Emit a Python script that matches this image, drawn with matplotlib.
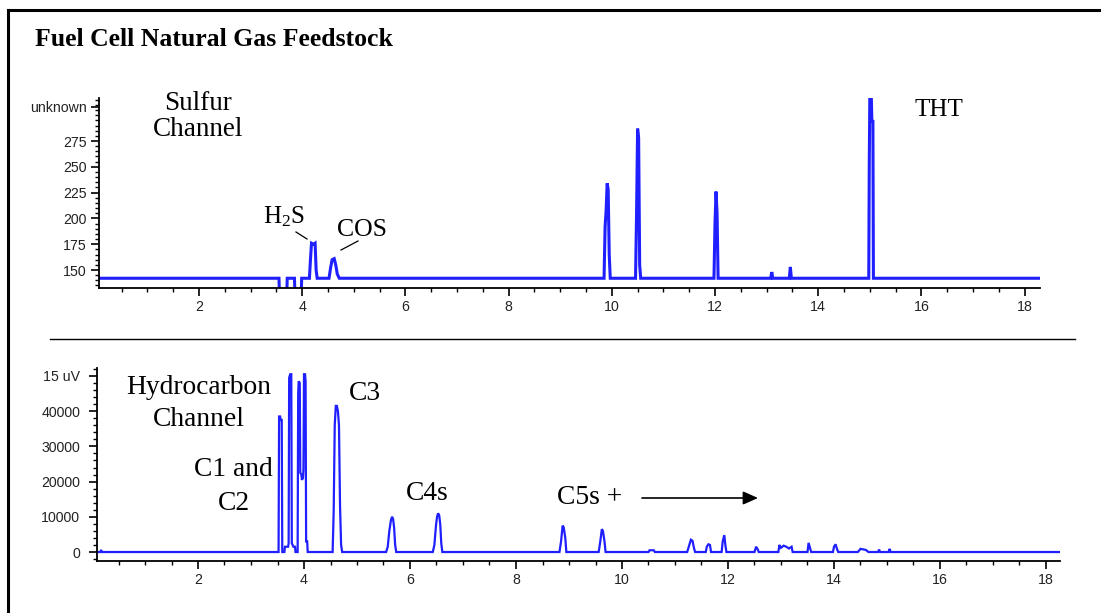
import matplotlib
matplotlib.use("Agg")
import matplotlib.pyplot as plt
from matplotlib.lines import Line2D
from matplotlib.ticker import MultipleLocator, FixedLocator, FixedFormatter

W, H = 1101, 613
plt.rcParams['mathtext.fontset'] = 'custom'
plt.rcParams['mathtext.rm'] = 'Liberation Serif'
plt.rcParams['mathtext.it'] = 'Liberation Serif'

# ---------------- data ----------------
# Sulfur channel trace: retention time (min) and detector response
sulfur_time = [0.0, 3.55, 3.56, 3.70, 3.71, 3.85, 3.86, 3.98, 3.99, 4.14, 4.16, 4.18, 4.22,
               4.25, 4.27, 4.29, 4.52, 4.55, 4.58, 4.62, 4.65, 4.68, 4.72,
               9.85, 9.87, 9.89, 9.91, 9.93, 9.95, 9.97,
               10.46, 10.48, 10.50, 10.52, 10.54, 10.56,
               11.98, 12.00, 12.02, 12.04, 12.06,
               13.08, 13.10, 13.12, 13.44, 13.46, 13.48,
               14.98, 14.99, 15.00, 15.03, 15.04, 15.06, 15.07, 18.35]
sulfur_resp = [142, 142, 125, 125, 142, 142, 125, 125, 142, 142, 160, 176, 175,
               176, 150, 142, 142, 152, 160, 161, 155, 146, 142,
               142, 192, 208, 234, 228, 165, 142,
               142, 205, 287, 278, 155, 142,
               142, 195, 226, 205, 142,
               142, 148, 142, 142, 153, 142,
               142, 256, 316, 316, 294, 294, 142, 142]

# Hydrocarbon channel trace
hc_time = [0.0, 0.16, 0.17, 0.19,
           3.52, 3.53, 3.55, 3.56, 3.58, 3.59,
           3.63, 3.64, 3.70, 3.71, 3.72, 3.74, 3.76, 3.77, 3.80, 3.83, 3.84, 3.88,
           3.89, 3.90, 3.92, 3.93, 3.95, 3.96, 3.98, 3.99, 4.00, 4.02, 4.03, 4.04, 4.06, 4.07,
           4.54, 4.56, 4.58, 4.60, 4.62, 4.64, 4.66, 4.68, 4.70, 4.72,
           5.55, 5.58, 5.61, 5.64, 5.66, 5.68, 5.70, 5.72, 5.74,
           6.43, 6.46, 6.49, 6.51, 6.53, 6.55, 6.57, 6.59, 6.61,
           8.82, 8.85, 8.88, 8.90, 8.93, 8.95,
           9.56, 9.59, 9.62, 9.64, 9.67, 9.69,
           10.50, 10.52, 10.60, 10.62,
           11.23, 11.26, 11.30, 11.33, 11.36, 11.38,
           11.58, 11.60, 11.63, 11.66, 11.68,
           11.88, 11.90, 11.93, 11.95, 11.97,
           12.50, 12.53, 12.56, 12.58,
           12.95, 12.97, 13.00, 13.05, 13.10, 13.15, 13.20, 13.22,
           13.50, 13.52, 13.55, 13.57,
           13.98, 14.00, 14.03, 14.06, 14.08,
           14.45, 14.50, 14.60, 14.65,
           14.83, 14.85, 14.87, 15.03, 15.05, 15.07, 18.30]
hc_resp = [0, 0, 600, 0,
           0, 38500, 38500, 37500, 37500, 0,
           0, 1500, 1500, 2500, 49500, 50500, 50500, 2500, 1500, 1500, 0, 0,
           45000, 48500, 48000, 22500, 22000, 20500, 21000, 23500, 50500, 50500, 48500, 3000, 3000, 0,
           0, 11500, 36000, 41500, 41500, 40000, 36000, 13000, 2000, 0,
           0, 1500, 6000, 9000, 10000, 9500, 7000, 2000, 0,
           0, 2000, 7500, 10000, 11000, 10500, 8000, 2500, 0,
           0, 3000, 7500, 7000, 4000, 0,
           0, 3000, 6500, 6000, 3000, 0,
           0, 500, 500, 0,
           0, 1500, 3500, 3200, 1000, 0,
           0, 1500, 2200, 2000, 0,
           0, 3000, 4800, 2000, 0,
           0, 1500, 800, 0,
           0, 2000, 1200, 1800, 1500, 1000, 1500, 0,
           0, 2600, 1000, 0,
           0, 1500, 2200, 700, 0,
           0, 900, 600, 0,
           0, 700, 0, 0, 900, 0, 0]

x_ticks = [2, 4, 6, 8, 10, 12, 14, 16, 18]
s_ticks = [150, 175, 200, 225, 250, 275, 308]
s_labels = ['150', '175', '200', '225', '250', '275', 'unknown']
h_ticks = [0, 10000, 20000, 30000, 40000, 50000]
h_labels = ['0', '10000', '20000', '30000', '40000', '15 uV']

# ---------------- figure ----------------
fig = plt.figure(figsize=(W / 100, H / 100), dpi=100)

def fx(px):
    return px / W

def fy(py):
    return 1 - py / H

def axrect(l, t, r, b):
    return [fx(l), fy(b), (r - l) / W, (b - t) / H]

line_color = '#1f1fff'

def style(ax, ypad):
    for s in ['top', 'right']:
        ax.spines[s].set_visible(False)
    for s in ['left', 'bottom']:
        ax.spines[s].set_linewidth(1.3)
    ax.tick_params(which='major', direction='out', length=5.5, width=1.2, pad=3,
                   labelsize=10.2, labelcolor='#222222')
    ax.tick_params(axis='y', which='major', pad=ypad)
    ax.tick_params(which='minor', direction='out', length=3, width=1.0)
    for lab in ax.get_xticklabels() + ax.get_yticklabels():
        lab.set_fontfamily('Liberation Sans')
    ax.patch.set_alpha(0)

# Sulfur channel
ax1 = fig.add_axes(axrect(99, 98, 1040, 288))
ax1.plot(sulfur_time, sulfur_resp, color=line_color, lw=2.2, solid_joinstyle='miter')
ax1.set_xlim(2 - 100 / 51.6, 2 + 841 / 51.6)
ax1.set_ylim(150 - 18 * 25 / 25.8, 150 + 172 * 25 / 25.8)
ax1.xaxis.set_major_locator(FixedLocator(x_ticks))
ax1.xaxis.set_minor_locator(MultipleLocator(0.5))
ax1.yaxis.set_major_locator(FixedLocator(s_ticks))
ax1.yaxis.set_major_formatter(FixedFormatter(s_labels))
ax1.yaxis.set_minor_locator(MultipleLocator(5))
style(ax1, 3.5)

# Hydrocarbon channel
ax2 = fig.add_axes(axrect(97, 368, 1060, 561))
ax2.plot(hc_time, hc_resp, color=line_color, lw=1.6, solid_joinstyle='miter')
ax2.set_xlim(2 - 101 / 53.0, 2 + 862 / 53.0)
ax2.set_ylim(-2550, 52270)
ax2.xaxis.set_major_locator(FixedLocator(x_ticks))
ax2.xaxis.set_minor_locator(MultipleLocator(0.5))
ax2.yaxis.set_major_locator(FixedLocator(h_ticks))
ax2.yaxis.set_major_formatter(FixedFormatter(h_labels))
ax2.yaxis.set_minor_locator(MultipleLocator(2000))
style(ax2, 6.5)

# outer frame and separator
fig.add_artist(Line2D([fx(8), fx(8)], [fy(10), fy(H + 5)], color='black', lw=2.2))
fig.add_artist(Line2D([fx(8), fx(W + 5)], [fy(10), fy(10)], color='black', lw=2.2))
fig.add_artist(Line2D([fx(50), fx(1075)], [fy(339), fy(339)], color='black', lw=1.0))

serif = 'Liberation Serif'
fig.text(fx(35), fy(40), 'Fuel Cell Natural Gas Feedstock', family=serif, weight='bold',
         size=18.5, ha='left', va='center')

def label(x, y, s, size=19.8, ha='center'):
    fig.text(fx(x), fy(y), s, family=serif, size=size, ha=ha, va='center')

label(198, 103, 'Sulfur', 19.5)
label(198, 130, 'Channel', 19.5)
label(939, 110, 'THT', 18)
label(284, 217, 'H$_{\\mathrm{2}}$S', 18)
label(362, 230, 'COS', 18.5)
fig.add_artist(Line2D([fx(296), fx(307)], [fy(232), fy(239)], color='black', lw=0.9))
fig.add_artist(Line2D([fx(358), fx(341)], [fy(241), fy(250)], color='black', lw=0.9))

label(199, 387, 'Hydrocarbon')
label(199, 419, 'Channel')
label(233, 470, 'C1 and')
label(234, 503, 'C2')
label(365, 394, 'C3')
label(427, 493, 'C4s')
label(590, 498, 'C5s +')

ax_arrow = fig.add_axes([0, 0, 1, 1], facecolor='none')
ax_arrow.set_axis_off()
ax_arrow.set_xlim(0, W)
ax_arrow.set_ylim(H, 0)
ax_arrow.annotate('', xy=(758, 498), xytext=(642, 498),
                  arrowprops=dict(arrowstyle='-|>,head_length=0.9,head_width=0.4',
                                  color='black', lw=1.2, shrinkA=0, shrinkB=0))

fig.savefig('out.png', dpi=100)
